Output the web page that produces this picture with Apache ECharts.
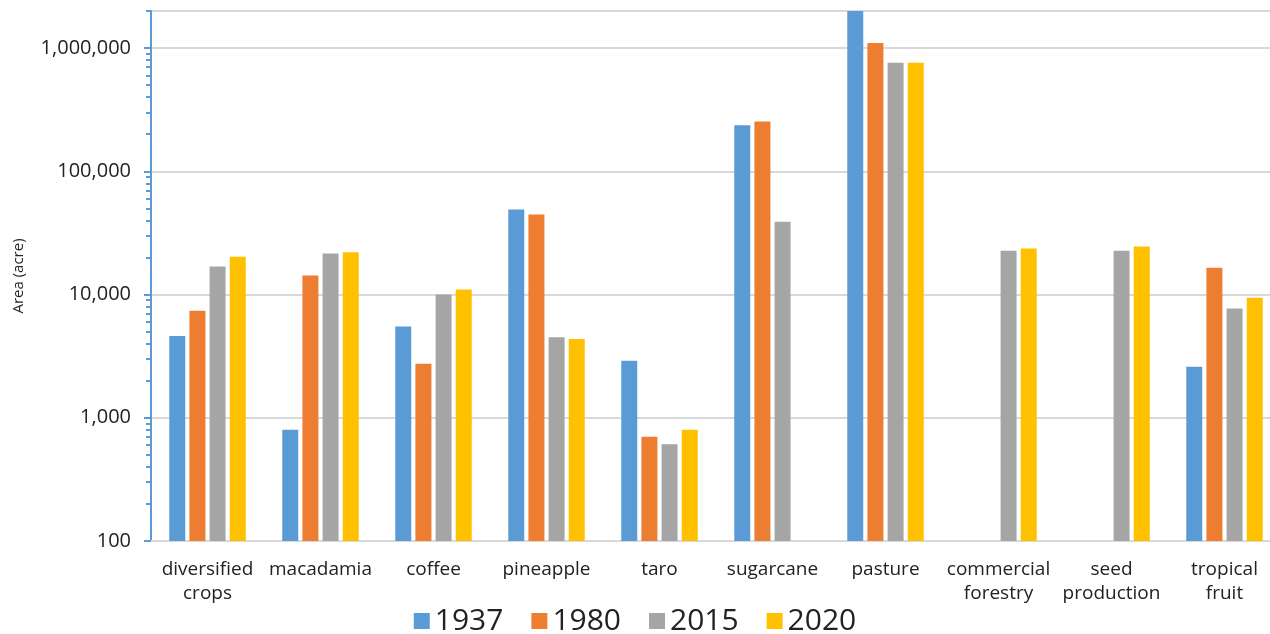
<!DOCTYPE html>
<html>
<head>
<meta charset="utf-8">
<script src="https://cdn.jsdelivr.net/npm/echarts@6/dist/echarts.min.js"></script>
<style>
  html, body { margin: 0; padding: 0; background: #fff; }
  #chart { width: 1270px; height: 634px; }
</style>
</head>
<body>
<div id="chart"></div>
<script>
  var categories = ['diversified\ncrops', 'macadamia', 'coffee', 'pineapple', 'taro',
    'sugarcane', 'pasture', 'commercial\nforestry', 'seed\nproduction', 'tropical\nfruit']
  var years = ['1937', '1980', '2015', '2020']
  var area1937 = [4600, 800, 5500, 49000, 2900, 236000, 2000000, null, null, 2600]
  var area1980 = [7400, 14300, 2750, 44600, 700, 254000, 1100000, null, null, 16500]
  var area2015 = [16900, 21500, 10000, 4500, 610, 39000, 760000, 22700, 22700, 7700]
  var area2020 = [20300, 22000, 11000, 4350, 800, null, 760000, 23600, 24500, 9400]
  var minorTicks = []
  ;[100, 1000, 10000, 100000, 1000000].forEach(function (d) {
    for (var k = 2; k <= 9; k++) {
      if (d * k <= 2000000) minorTicks.push(d * k)
    }
  })

  var colors = ['#5B9BD5', '#ED7D31', '#A5A5A5', '#FFC000']
  var seriesData = [area1937, area1980, area2015, area2020]

  var myChart = echarts.init(document.getElementById('chart'))
  var option = {
    animation: false,
    color: colors,
    textStyle: { fontFamily: 'Open Sans, DejaVu Sans, sans-serif' },
    grid: { left: 151, top: 11, width: 1130, height: 530, containLabel: false, outerBoundsMode: 'none' },
    legend: {
      data: years,
      bottom: -7,
      left: 'center',
      itemWidth: 16,
      itemHeight: 16,
      itemGap: 28,
      icon: 'rect',
      textStyle: { fontSize: 30, color: '#222' }
    },
    xAxis: {
      type: 'category',
      data: categories,
      axisLine: { lineStyle: { color: '#d9d9d9', width: 2 } },
      axisTick: { show: false },
      axisLabel: { fontSize: 19, color: '#222', margin: 17, lineHeight: 24, interval: 0 }
    },
    yAxis: [{
      type: 'log',
      logBase: 10,
      min: 100,
      max: 2000000,
      name: 'Area (acre)',
      nameLocation: 'middle',
      nameGap: 125,
      nameTextStyle: { fontSize: 15, color: '#222' },
      axisLine: { show: true, lineStyle: { color: '#5B9BD5', width: 2 } },
      axisTick: { show: true, length: 7, lineStyle: { color: '#5B9BD5', width: 2 } },
      axisLabel: {
        fontSize: 20,
        color: '#222',
        margin: 20,
        showMaxLabel: false,
        formatter: function (v) { return Math.round(v).toLocaleString('en-US') }
      },
      splitLine: { show: true, lineStyle: { color: '#d9d9d9', width: 2 } }
    }, {
      type: 'log',
      logBase: 10,
      min: 100,
      max: 2000000,
      position: 'left',
      axisLine: { show: false },
      axisTick: { show: true, length: 5, customValues: minorTicks, lineStyle: { color: '#5B9BD5', width: 2 } },
      axisLabel: { show: false },
      splitLine: { show: false }
    }],
    series: years.map(function (y, i) {
      return {
        name: y,
        type: 'bar',
        data: seriesData[i],
        barWidth: 16,
        barGap: '26%',
        itemStyle: { color: colors[i] }
      }
    })
  }
  myChart.setOption(option)
</script>
</body>
</html>
